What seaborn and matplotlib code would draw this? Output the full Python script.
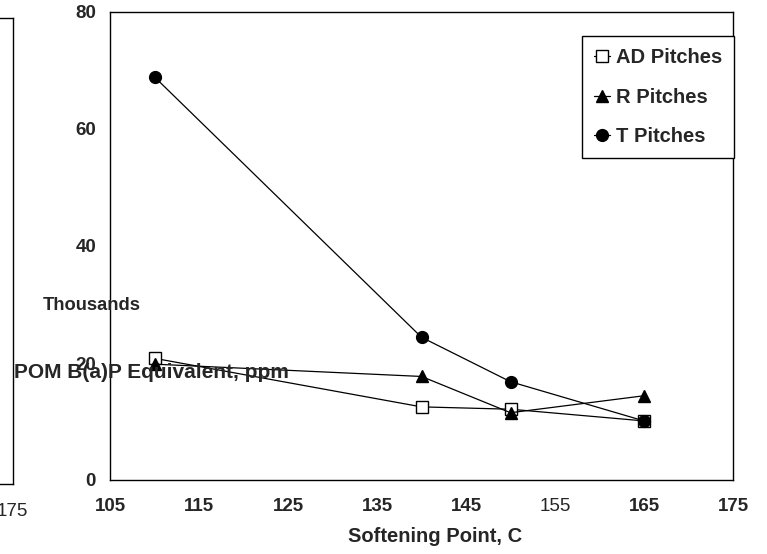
import matplotlib
matplotlib.use("Agg")
import matplotlib.pyplot as plt
import seaborn as sns
import pandas as pd

# ---- data ----
softening_point = [110, 140, 150, 165]
ad_pitches = [20.8, 12.5, 12.1, 10.1]
r_pitches = [19.8, 17.7, 11.5, 14.4]
t_pitches = [68.9, 24.4, 16.8, 10.1]
series_names = ["AD Pitches", "R Pitches", "T Pitches"]
x_tick_labels = ["105", "115", "125", "135", "145", "155", "165", "175"]
y_tick_labels = ["0", "20", "40", "60", "80"]

sns.set_style("white")
plt.rcParams["font.family"] = ["Liberation Sans", "DejaVu Sans"]

W, H = 767, 554
fig = plt.figure(figsize=(W / 100, H / 100), dpi=100)

# remnant of neighbouring chart on the left
ax0 = fig.add_axes([-0.5, 1 - 484 / H, 0.5 + 12.7 / W, (484 - 17.7) / H])
ax0.set_xlim(105, 175)
ax0.set_ylim(0, 80)
ax0.set_xticks([175])
ax0.set_xticklabels(["175"], fontsize=13.5)
ax0.set_yticks([])
ax0.tick_params(axis="x", length=0, pad=14)
ax0.spines["left"].set_visible(False)
for s in ["top", "right", "bottom"]:
    ax0.spines[s].set_color("black")
    ax0.spines[s].set_linewidth(1.0)

# main chart
L, R_, T_, B = 110, 733, 12, 480
ax = fig.add_axes([L / W, 1 - B / H, (R_ - L) / W, (B - T_) / H])

df = pd.DataFrame({
    "x": softening_point * 3,
    "y": ad_pitches + r_pitches + t_pitches,
    "series": [series_names[0]] * 4 + [series_names[1]] * 4 + [series_names[2]] * 4,
})

styles = {
    "AD Pitches": dict(marker="s", markerfacecolor="white", markersize=8),
    "R Pitches": dict(marker="^", markerfacecolor="black", markersize=8.5),
    "T Pitches": dict(marker="o", markerfacecolor="black", markersize=8.5),
}
for name in series_names:
    sub = df[df["series"] == name]
    sns.lineplot(data=sub, x="x", y="y", ax=ax, color="black", linewidth=0.9,
                 markeredgecolor="black", markeredgewidth=1.0, label=name,
                 **styles[name])

ax.set_xlim(105, 175)
ax.set_ylim(0, 80)
ax.set_xticks([int(v) for v in x_tick_labels])
ax.set_xticks(list(range(110, 175, 10)), minor=True)
ax.set_yticks([int(v) for v in y_tick_labels])
ax.set_xticklabels(x_tick_labels, fontsize=13.5, fontweight="bold")
for lab in ax.get_xticklabels():
    if lab.get_text() == "155":
        lab.set_fontweight("normal")
ax.set_yticklabels(y_tick_labels, fontsize=13.5, fontweight="bold")
ax.tick_params(axis="both", which="both", direction="in", length=7, width=1.0,
               color="black")
ax.tick_params(axis="x", which="major", pad=13)
ax.tick_params(axis="y", which="major", pad=10)
for s in ax.spines.values():
    s.set_color("black")
    s.set_linewidth(1.0)

ax.set_xlabel("Softening Point, C", fontsize=14.5, fontweight="bold")
ax.xaxis.set_label_coords((435 - L) / (R_ - L), (B - 537) / (B - T_))
ax.xaxis.label.set_va("center")
ax.set_ylabel("")

fig.text(92 / W, 1 - 305 / H, "Thousands", fontsize=13.2, fontweight="bold",
         ha="center", va="center")
fig.text(151 / W, 1 - 373 / H, "POM B(a)P Equivalent, ppm", fontsize=15,
         fontweight="bold", ha="center", va="center")

leg = ax.legend(loc="upper left",
                bbox_to_anchor=((582 - L) / (R_ - L), (B - 36) / (B - T_)),
                borderaxespad=0, frameon=True, fancybox=False, shadow=False,
                handlelength=0.75, handletextpad=0.3, labelspacing=1.0,
                borderpad=0.62, prop={"size": 14.5, "weight": "bold"})
leg.get_frame().set_edgecolor("black")
leg.get_frame().set_linewidth(1.0)
leg.get_frame().set_facecolor("white")
leg.get_frame().set_alpha(1)

fig.savefig("out.png", dpi=100, facecolor="white")
